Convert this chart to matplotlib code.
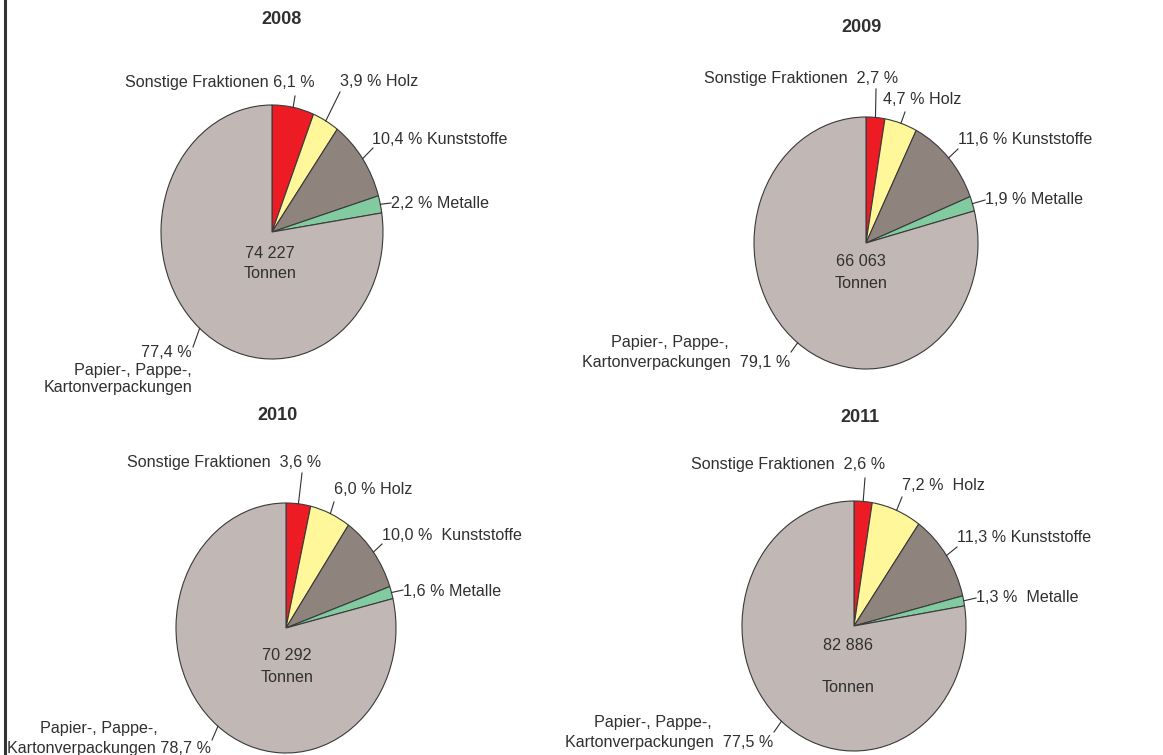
"""
Verpackungsabfaelle nach Fraktionen, 2008-2011 (vier Kreisdiagramme)
"""
import numpy as np
import matplotlib
matplotlib.use("Agg")
import matplotlib.pyplot as plt

# Data
years = ["2008", "2009", "2010", "2011"]
sonstige = [6.1, 2.7, 3.6, 2.6]
holz = [3.9, 4.7, 6.0, 7.2]
kunststoffe = [10.4, 11.6, 10.0, 11.3]
metalle = [2.2, 1.9, 1.6, 1.3]
papier = [77.4, 79.1, 78.7, 77.5]
tonnen = ["74 227", "66 063", "70 292", "82 886"]
names = ["Sonstige Fraktionen", "Holz", "Kunststoffe", "Metalle",
         "Papier-, Pappe-,\nKartonverpackungen"]

colors = ["#ED1C24", "#FFF799", "#8F837E", "#82CBA0", "#C1B7B4"]
TEXT = "#303030"

# Layout (pixels)
W, H = 1163, 755
# pie centre x, centre y, radius x, radius y
geom = [(272, 232, 111, 127), (866, 243, 112, 126),
        (286, 628, 110, 125), (854, 626, 112, 125)]
title_pos = [(282, 20), (861, 28), (278, 416), (860, 417)]
center_pos = [((270, 253), (270, 274)), ((861, 262), (861, 283)),
              ((287, 655), (287, 677)), ((848, 645), (848, 687))]
# label anchors: (x, y, ha) for sonstige, holz, kunststoffe, metalle
label_pos = [
    [(315, 83, "right"), (340, 81, "left"), (372, 140, "left"), (391, 203, "left")],
    [(898, 78, "right"), (883, 100, "left"), (958, 139, "left"), (985, 200, "left")],
    [(321, 462, "right"), (334, 490, "left"), (382, 535, "left"), (403, 591, "left")],
    [(885, 465, "right"), (902, 486, "left"), (957, 537, "left"), (976, 597, "left")],
]
# gap between name and percentage for each label
gaps = [
    [" ", " ", " ", " "],
    ["  ", " ", " ", " "],
    ["  ", " ", "  ", " "],
    ["  ", "  ", " ", "  "],
]
# leader line end points for the five slices
leader_end = [
    [(295, 96), (340, 92), (373, 148), (391, 203), (193, 347)],
    [(876, 89), (905, 112), (958, 149), (985, 200), (791, 352)],
    [(302, 473), (334, 502), (382, 544), (403, 590), (212, 740)],
    [(865, 478), (902, 497), (957, 547), (976, 598), (774, 732)],
]

plt.rcParams["font.family"] = ["Liberation Sans", "DejaVu Sans"]
FS = 11.6


def pct(v):
    return f"{v:.1f}".replace(".", ",") + " %"


fig = plt.figure(figsize=(W / 100, H / 100), dpi=100)
fig.patch.set_facecolor("white")

M = 1.04
for i in range(4):
    cx, cy, rx, ry = geom[i]
    ax = fig.add_axes([(cx - rx * M) / W, 1 - (cy + ry * M) / H,
                       2 * rx * M / W, 2 * ry * M / H])
    vals = [sonstige[i], holz[i], kunststoffe[i], metalle[i], papier[i]]
    ax.pie(vals, colors=colors, startangle=90, counterclock=False,
           radius=1, wedgeprops=dict(edgecolor="#3a3a3a", linewidth=0.8))
    ax.set_aspect("auto")
    ax.set_xlim(-M, M)
    ax.set_ylim(-M, M)
    ax.axis("off")

# overlay in pixel coordinates for labels and leader lines
ov = fig.add_axes([0, 0, 1, 1], zorder=5)
ov.set_xlim(0, W)
ov.set_ylim(H, 0)
ov.axis("off")
ov.patch.set_alpha(0)

ov.plot([5, 5], [0, H], color="#333333", lw=2.2)

for i in range(4):
    cx, cy, rx, ry = geom[i]
    vals = np.array([sonstige[i], holz[i], kunststoffe[i], metalle[i], papier[i]])
    frac = vals / vals.sum()
    mids = 90 - 360 * (np.cumsum(frac) - frac / 2)

    # leader lines from slice edge
    for k in range(5):
        a = np.deg2rad(mids[k])
        sx, sy = cx + rx * np.cos(a), cy - ry * np.sin(a)
        ex, ey = leader_end[i][k]
        ov.plot([sx, ex], [sy, ey], color=TEXT, lw=0.8)

    ov.text(*title_pos[i], years[i], ha="center", va="center",
            fontsize=13, fontweight="bold", color=TEXT)

    # small slices
    x, y, ha = label_pos[i][0]
    ov.text(x, y, f"{names[0]}{gaps[i][0]}{pct(sonstige[i])}", ha=ha,
            va="center", fontsize=FS, color=TEXT)
    for k, v in zip(range(1, 4), [holz[i], kunststoffe[i], metalle[i]]):
        x, y, ha = label_pos[i][k]
        ov.text(x, y, f"{pct(v)}{gaps[i][k]}{names[k]}", ha=ha, va="center",
                fontsize=FS, color=TEXT)

    # centre total
    (x1, y1), (x2, y2) = center_pos[i]
    ov.text(x1, y1, tonnen[i], ha="center", va="center", fontsize=FS, color=TEXT)
    ov.text(x2, y2, "Tonnen", ha="center", va="center", fontsize=FS, color=TEXT)

# Papier labels (placed differently in each panel)
line1, line2 = names[4].split("\n")
ov.text(192, 370, f"{pct(papier[0])}\n{line1}\n{line2}", ha="right",
        va="center", multialignment="right", fontsize=FS, color=TEXT,
        linespacing=1.2)
ov.text(729, 342, line1, ha="right", va="center", fontsize=FS, color=TEXT)
ov.text(790, 363, f"{line2}  {pct(papier[1])}", ha="right", va="center",
        fontsize=FS, color=TEXT)
ov.text(99, 728, line1, ha="center", va="center", fontsize=FS, color=TEXT)
ov.text(211, 748, f"{line2} {pct(papier[2])}", ha="right", va="center",
        fontsize=FS, color=TEXT)
ov.text(712, 722, line1, ha="right", va="center", fontsize=FS, color=TEXT)
ov.text(773, 742, f"{line2}  {pct(papier[3])}", ha="right", va="center",
        fontsize=FS, color=TEXT)

fig.savefig("out.png", dpi=100, facecolor="white")
